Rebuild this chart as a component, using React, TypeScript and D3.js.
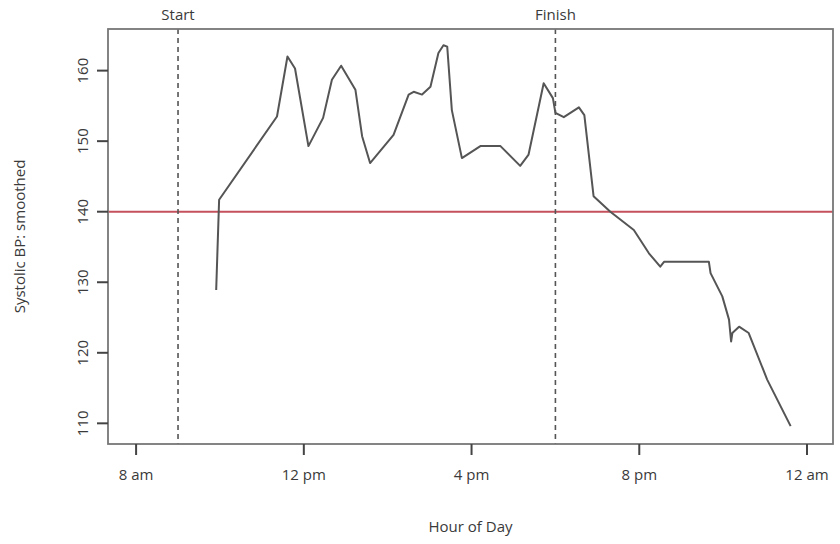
import React from "react";
import * as d3 from "d3";

// smoothed systolic BP readings, hour of day vs mmHg
const hours = [9.91, 9.98, 11.36, 11.61, 11.79, 12.11, 12.46, 12.67, 12.89, 13.23, 13.39, 13.58,
  14.14, 14.5, 14.62, 14.82, 15.02, 15.21, 15.33, 15.42, 15.53, 15.77, 16.21, 16.69, 17.16,
  17.36, 17.72, 17.94, 18.0, 18.2, 18.56, 18.69, 18.91, 19.31, 19.87, 20.23, 20.5, 20.59,
  21.66, 21.7, 21.98, 22.14, 22.19, 22.22, 22.38, 22.61, 23.05, 23.61];
const bp = [128.9, 141.7, 153.5, 162.0, 160.3, 149.3, 153.3, 158.7, 160.7, 157.3, 150.7, 146.9,
  150.9, 156.6, 157.0, 156.6, 157.7, 162.5, 163.6, 163.4, 154.4, 147.6, 149.3, 149.3, 146.5,
  148.1, 158.2, 156.1, 154.0, 153.4, 154.8, 153.7, 142.2, 140.0, 137.4, 134.1, 132.2, 132.9,
  132.9, 131.3, 128.0, 124.7, 121.6, 122.8, 123.7, 122.8, 116.2, 109.6];

const xTicks = [8, 12, 16, 20, 24];
const xTickLabels = ["8 am", "12 pm", "4 pm", "8 pm", "12 am"];
const yTicks = [110, 120, 130, 140, 150, 160];
const markers = [{ h: 9, label: "Start" }, { h: 18, label: "Finish" }];
const threshold = 140;

export default function App() {
  const width = 840;
  const height = 544;
  const left = 108, right = 833, top = 29, bottom = 444;

  const x = d3.scaleLinear().domain([7.33, 24.62]).range([left, right]);
  const y = d3.scaleLinear().domain([107.07, 165.9]).range([bottom, top]);

  const pts = hours.map((h, i) => [h, bp[i]] as [number, number]);
  const line = d3.line<[number, number]>().x(d => x(d[0])).y(d => y(d[1]));

  const font = "'Open Sans', sans-serif";
  const ink = "#3a3a3a";
  const fs = 15;

  return (
    <svg width={width} height={height} style={{ position: "absolute", left: 0, top: 0 }}
      fontFamily={font} fill={ink}>
      <rect width={width} height={height} fill="#fff" />
      <line x1={left} x2={right} y1={y(threshold)} y2={y(threshold)} stroke="#c4515c" strokeWidth={2} />
      {markers.map(m => (
        <g key={m.label}>
          <line x1={x(m.h)} x2={x(m.h)} y1={top} y2={bottom} stroke="#555" strokeWidth={1.6}
            strokeDasharray="5,4" />
          <text x={x(m.h)} y={top - 9} textAnchor="middle" fontSize={fs}>{m.label}</text>
        </g>
      ))}
      <path d={line(pts) || ""} fill="none" stroke="#555" strokeWidth={2} strokeLinejoin="round" />
      <rect x={left} y={top} width={right - left} height={bottom - top} fill="none" stroke="#777" strokeWidth={1.8} />
      {xTicks.map((t, i) => (
        <g key={t}>
          <line x1={x(t)} x2={x(t)} y1={bottom} y2={bottom + 11} stroke="#444" strokeWidth={2} />
          <text x={x(t)} y={bottom + 36} textAnchor="middle" fontSize={fs}>{xTickLabels[i]}</text>
        </g>
      ))}
      {yTicks.map(t => (
        <g key={t}>
          <line x1={left} x2={left - 11} y1={y(t)} y2={y(t)} stroke="#444" strokeWidth={2} />
          <text transform={`translate(${left - 20},${y(t)}) rotate(-90)`} textAnchor="middle"
            fontSize={fs}>{t}</text>
        </g>
      ))}
      <text transform={`translate(25,${(top + bottom) / 2}) rotate(-90)`} textAnchor="middle"
        fontSize={fs}>Systolic BP: smoothed</text>
      <text x={(left + right) / 2} y={532} textAnchor="middle" fontSize={fs}>Hour of Day</text>
    </svg>
  );
}
